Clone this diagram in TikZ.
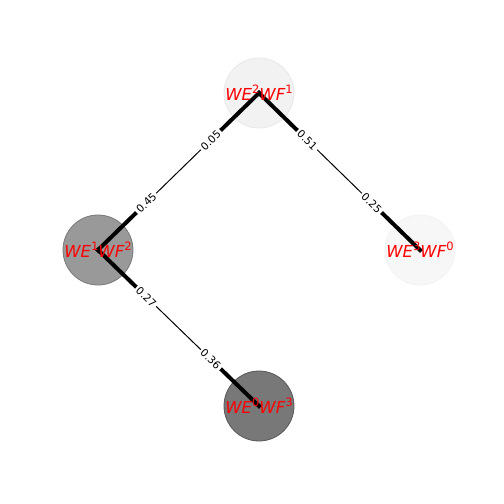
\documentclass[tikz,border=0pt]{standalone}
\usepackage{fontspec}
\setmainfont{DejaVu Sans}
\usetikzlibrary{calc}
\newcommand{\pw}[1]{\raisebox{0.45em}{\fontsize{11.5}{11.5}\selectfont #1}}
\newcommand{\wlab}[2]{{\itshape WE}\pw{#1}{\itshape WF}\pw{#2}}
\begin{document}
\begin{tikzpicture}[x=1pt, y=-1pt,
	state/.style={circle, minimum size=70pt, inner sep=0pt, line width=0.8pt},
	lab/.style={text=red, inner sep=0pt, font=\fontsize{16.5}{16.5}\selectfont},
	wt/.style={fill=white, inner sep=2pt, sloped, font=\fontsize{10.5}{10.5}\selectfont},
	heavy/.style={line width=4pt, line cap=rect},
	light/.style={line width=1pt}]
		\useasboundingbox (0,0) rectangle (504,504);
		% States
		\node[state, fill=black!5, draw=black!9] (s21) at (259,93) {};
		\node[state, fill=black!40, draw=black!53] (s12) at (98,250) {};
		\node[state, fill=black!3, draw=black!5] (s30) at (420,250) {};
		\node[state, fill=black!53, draw=black!66] (s03) at (259,406) {};
		% Transitions
		\draw[light] (s21.center) -- (s12.center);
		\draw[light] (s21.center) -- (s30.center);
		\draw[light] (s12.center) -- (s03.center);
		\draw[heavy] (s21.center) -- ($(s21)!0.25!(s12)$);
		\draw[heavy] (s12.center) -- ($(s12)!0.25!(s21)$);
		\draw[heavy] (s21.center) -- ($(s21)!0.25!(s30)$);
		\draw[heavy] (s30.center) -- ($(s30)!0.25!(s21)$);
		\draw[heavy] (s12.center) -- ($(s12)!0.25!(s03)$);
		\draw[heavy] (s03.center) -- ($(s03)!0.25!(s12)$);
		% Weights
		\path (s21.center) -- (s12.center) node[wt, pos=0.3] (w1) {0.05} node[wt, pos=0.7] (w2) {0.45};
		\path (s21.center) -- (s30.center) node[wt, pos=0.3] (w3) {0.51} node[wt, pos=0.7] (w4) {0.25};
		\path (s12.center) -- (s03.center) node[wt, pos=0.3] (w5) {0.27} node[wt, pos=0.7] (w6) {0.36};
		% Labels
		\node[lab] (t21) at (s21) {\wlab{2}{1}};
		\node[lab] (t12) at (s12) {\wlab{1}{2}};
		\node[lab] (t30) at (s30) {\wlab{3}{0}};
		\node[lab] (t03) at (s03) {\wlab{0}{3}};
\end{tikzpicture}
\end{document}
